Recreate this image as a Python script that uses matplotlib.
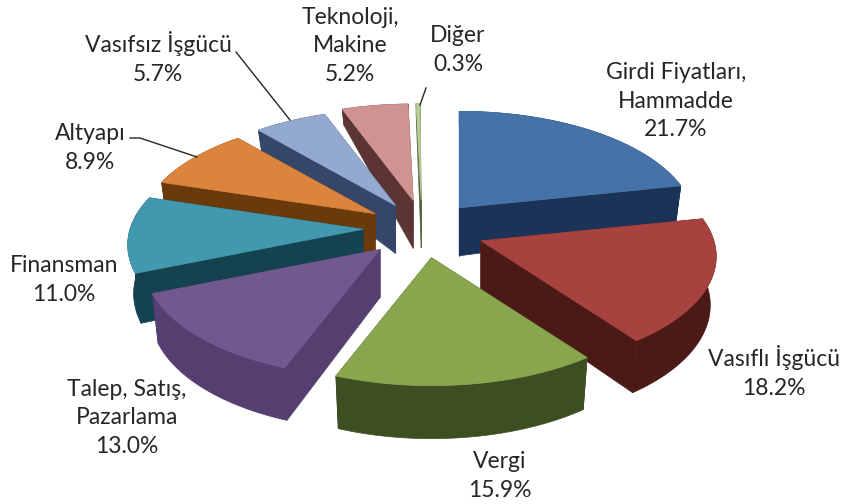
import numpy as np
import matplotlib
matplotlib.use('Agg')
import matplotlib.pyplot as plt

plt.rcParams['font.family'] = ['Lato', 'DejaVu Sans']

# Data
labels = ['Girdi Fiyatları,\nHammadde', 'Vasıflı İşgücü', 'Vergi', 'Talep, Satış,\nPazarlama',
          'Finansman', 'Altyapı', 'Vasıfsız İşgücü', 'Teknoloji,\nMakine', 'Diğer']
values = [21.7, 18.2, 15.9, 13.0, 11.0, 8.9, 5.7, 5.2, 0.3]

top_colors = ['#4573A7', '#A8423F', '#89A54E', '#71588F', '#4198AF',
              '#DB843D', '#93A9CF', '#D19392', '#B9CD96']
side_colors = ['#1A3357', '#4B1A17', '#3D4F22', '#553F70', '#14434F',
               '#6A3A0A', '#34466A', '#5A3534', '#556642']

# back to front
draw_order = [8, 7, 6, 5, 4, 0, 3, 1, 2]

label_pos = [(676, 101), (774, 372), (500, 476), (127, 418), (64, 280),
             (90, 148), (158, 58), (350, 46), (458, 50)]

# how far each slice is pulled out, in pixels
explode_x = [59, 63, 70, 60, 59, 56, 52, 47, 47]
explode_y = [26, 36, 30, 30, 28, 26, 26, 28, 28]

# pie geometry in pixels
cx, cy = 422, 228
rx, ry, persp = 233, 110, 0.14
taper = 0.025


def rim(theta):
    # perspective projection of a point on the unit circle, clockwise from top
    u, v = np.sin(theta), np.cos(theta)
    w = 1 + persp * v
    return rx * u / w, -ry * v / w


def depth(theta):
    v = np.cos(theta)
    return np.where(v > 0, 48 - 34 * v, 48 - 5 * v)


fig = plt.figure(figsize=(8.42, 5.04), dpi=100, facecolor='white')
ax = fig.add_axes([0, 0, 1, 1])
ax.set_xlim(0, 842)
ax.set_ylim(504, 0)
ax.axis('off')

edges = np.radians(np.concatenate([[0], np.cumsum(values)]) * 3.6)

for i in draw_order:
    a0, a1 = edges[i], edges[i + 1]
    mid = (a0 + a1) / 2
    ox = cx + explode_x[i] * np.sin(mid)
    oy = cy - explode_y[i] * np.cos(mid)
    th = np.linspace(a0, a1, 60)
    lx, ly = rim(th)
    x, y = lx + ox, ly + oy
    # lower edge of the wall leans in toward the middle
    bx = x - taper * lx
    by = y + depth(th)
    side = side_colors[i]

    # radial walls
    for k in [0, -1]:
        ax.fill([ox, x[k], bx[k], ox], [oy, y[k], by[k], oy + 48], color=side, lw=0.5)

    # outer wall
    ax.fill(np.r_[x, bx[::-1]], np.r_[y, by[::-1]], color=side, lw=0.5)

    # top face
    ax.fill(np.r_[ox, x], np.r_[oy, y], color=top_colors[i], lw=0.5)

for name, val, (tx, ty) in zip(labels, values, label_pos):
    ax.text(tx, ty, f'{name}\n{val:.1f}%', ha='center', va='center', fontsize=16.5,
            color='#262626', linespacing=1.42, zorder=3)

# leader lines
ax.plot([130, 140, 197], [138, 138, 157], color='#262626', lw=1, zorder=2)
ax.plot([236, 290], [52, 120], color='#262626', lw=1, zorder=2)
ax.plot([426, 420], [88, 105], color='#262626', lw=1, zorder=2)

fig.savefig('out.png', dpi=100, facecolor='white')
